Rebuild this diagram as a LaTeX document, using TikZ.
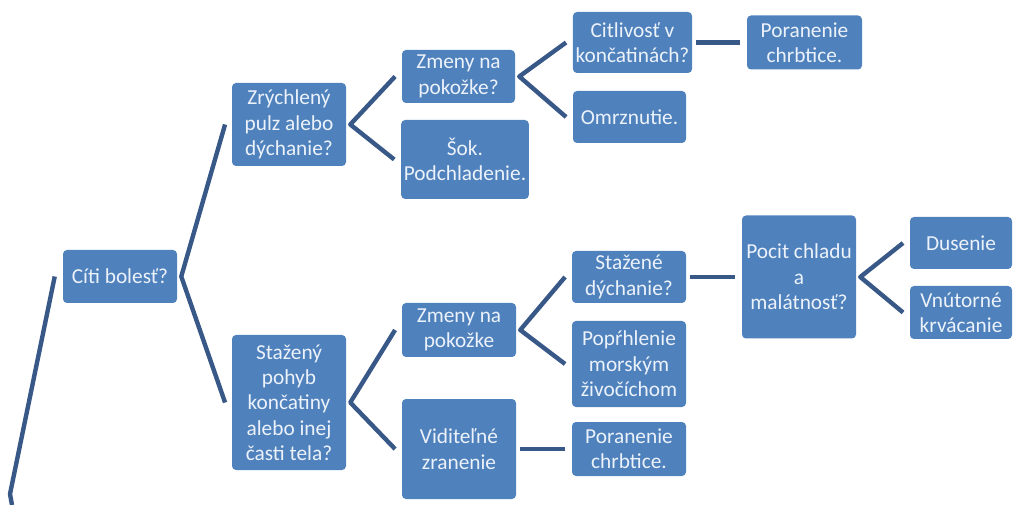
\documentclass[tikz,border=0pt]{standalone}
\usepackage{fontspec}
\setmainfont{Carlito}
\definecolor{boxblue}{RGB}{79,129,189}
\definecolor{linkblue}{RGB}{56,88,136}
\definecolor{boxtext}{RGB}{236,242,250}
\begin{document}
\begin{tikzpicture}[x=0.75pt,y=-0.75pt]
	\tikzstyle{box}=[rectangle,rounded corners=3pt,fill=boxblue,text=boxtext,align=center,inner sep=2pt,font=\fontsize{16}{19}\selectfont]
	\tikzstyle{edge}=[draw=linkblue,line width=3.3pt,line join=round]
	\useasboundingbox (0,0) rectangle (1016,505);

	% first level
	\node [box,minimum width=85.5pt,minimum height=39.75pt] (cb) at (120,276.5) {Cíti bolesť?};
	\node [box,minimum width=85.5pt,minimum height=62.25pt] (zp) at (289,124.5) {Zrýchlený\\pulz alebo\\dýchanie?};
	\node [box,minimum width=85.5pt,minimum height=101.25pt] (sp) at (289,402.5) {Stažený\\pohyb\\končatiny\\alebo inej\\časti tela?};

	% upper branch
	\node [box,minimum width=84.75pt,minimum height=39.75pt] (zm1) at (458.5,76.5) {Zmeny na\\pokožke?};
	\node [box,minimum width=94.5pt,minimum height=59.25pt] (sok) at (465,159.5) {Šok.\\Podchladenie.};
	\node [box,minimum width=89.25pt,minimum height=45.75pt] (cit) at (632.5,42.5) {Citlivosť v\\končatinách?};
	\node [box,minimum width=84.75pt,minimum height=39pt] (omr) at (629.5,117) {Omrznutie.};
	\node [box,minimum width=86.25pt,minimum height=40.5pt] (por1) at (804.5,42.5) {Poranenie\\chrbtice.};

	% lower branch
	\node [box,minimum width=85.5pt,minimum height=40.5pt] (zm2) at (459,330) {Zmeny na\\pokožke};
	\node [box,minimum width=85.5pt,minimum height=75pt] (vid) at (459,449) {Viditeľné\\zranenie};
	\node [box,minimum width=85.5pt,minimum height=39pt] (sd) at (629,277) {Stažené\\dýchanie?};
	\node [box,minimum width=85.5pt,minimum height=64.5pt] (pop) at (629,364) {Popŕhlenie\\morským\\živočíchom};
	\node [box,minimum width=85.5pt,minimum height=40.5pt] (por2) at (629,449) {Poranenie\\chrbtice.};
	\node [box,minimum width=85.5pt,minimum height=92.25pt] (poc) at (799,277) {Pocit chladu\\a\\malátnosť?};
	\node [box,minimum width=76.5pt,minimum height=39pt] (dus) at (961,243) {Dusenie};
	\node [box,minimum width=76.5pt,minimum height=39.75pt] (vnu) at (961,312.5) {Vnútorné\\krvácanie};

	% fork points
	\coordinate (cbR) at ([xshift=3pt]cb.east);
	\coordinate (zpR) at ([xshift=3pt]zp.east);
	\coordinate (spR) at ([xshift=3pt]sp.east);
	\coordinate (zm1R) at ([xshift=3pt]zm1.east);
	\coordinate (zm2R) at ([xshift=3pt]zm2.east);
	\coordinate (pocR) at ([xshift=3pt]poc.east);
	\coordinate (root) at (10,494);
	\coordinate (rootend) at (12,505);

	\draw [edge] ([xshift=-6pt]cb.west) -- (root) -- (rootend);
	\draw [edge] ([xshift=-5pt]zp.west) -- (cbR) -- ([xshift=-5pt]sp.west);
	\draw [edge] ([xshift=-5pt]zm1.west) -- (zpR) -- ([xshift=-5pt]sok.west);
	\draw [edge] ([xshift=-5pt]zm2.west) -- (spR) -- ([xshift=-5pt]vid.west);
	\draw [edge] ([xshift=-5pt]cit.west) -- (zm1R) -- ([xshift=-5pt]omr.west);
	\draw [edge] ([xshift=-5pt]sd.west) -- (zm2R) -- ([xshift=-5pt]pop.west);
	\draw [edge] ([xshift=-5pt]dus.west) -- (pocR) -- ([xshift=-5pt]vnu.west);
	\draw [edge] ([xshift=3pt]cit.east) -- ([xshift=-5pt]por1.west);
	\draw [edge] ([xshift=3pt]vid.east) -- ([xshift=-5pt]por2.west);
	\draw [edge] ([xshift=3pt]sd.east) -- ([xshift=-5pt]poc.west);
\end{tikzpicture}
\end{document}
